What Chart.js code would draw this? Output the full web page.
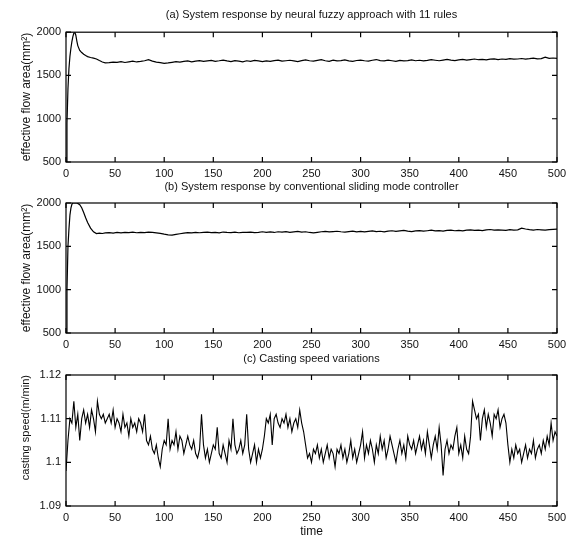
<!DOCTYPE html>
<html>
<head>
<meta charset="utf-8">
<script src="https://cdn.jsdelivr.net/npm/chart.js@4.4.0/dist/chart.umd.min.js"></script>
<style>
  body { margin: 0; background: #fff; }
  #page { position: relative; width: 573px; height: 542px; background: #fff; }
  canvas { position: absolute; left: 0; }
</style>
</head>
<body>
<div id="page">
  <canvas id="chart-a" width="573" height="180" style="top:0px"></canvas>
  <canvas id="chart-b" width="573" height="172" style="top:180px"></canvas>
  <canvas id="chart-c" width="573" height="190" style="top:352px"></canvas>
</div>
<script>
const timeTicks = [0, 50, 100, 150, 200, 250, 300, 350, 400, 450, 500];
const flowTicks = [500, 1000, 1500, 2000];
const speedTicks = [1.09, 1.1, 1.11, 1.12];
const speedTickLabels = ["1.09", "1.1", "1.11", "1.12"];

// time points for the two flow-area plots: dense during the start-up, every 4 after
const flowTime = [0, 1, 2, 3, 4, 5, 6, 7, 8, 9, 10, 11, 12, 14, 16, 18, 20, 22, 25, 28, 31, 34, 37, 40]
    .concat(Array.from({ length: 115 }, (_, i) => 44 + 4 * i));

// (a) neural fuzzy, 11 rules
const flowFuzzy = [
    500, 950, 1350, 1580, 1720, 1815, 1890, 1950, 1990, 2000, 1965, 1900, 1845, 1790, 1765, 1745, 1730, 1718, 1708, 1700, 1690, 1672, 1655, 1645,
    1648, 1655, 1652, 1660, 1650, 1658, 1665, 1656, 1662, 1670, 1682, 1666, 1655, 1648, 1640,
    1645, 1652, 1660, 1655, 1663, 1668, 1658, 1665, 1672, 1662, 1668, 1675, 1664, 1670, 1678, 1668, 1660, 1672, 1666, 1658, 1670, 1664, 1675, 1668, 1660,
    1668, 1662, 1672, 1678, 1665, 1670, 1676, 1668, 1660, 1672, 1680, 1670, 1665, 1675, 1682, 1670, 1664, 1676, 1668, 1672, 1680, 1668, 1662, 1673, 1678,
    1670, 1665, 1676, 1684, 1672, 1668, 1678, 1670, 1662, 1675, 1668, 1672, 1680, 1670, 1676, 1668, 1674, 1682, 1676, 1670, 1678, 1685, 1677, 1672, 1680,
    1686, 1678, 1684, 1690, 1682, 1686, 1680, 1688, 1692, 1684, 1690, 1686, 1694, 1688, 1690, 1696, 1690, 1694, 1700, 1692, 1695, 1712, 1698, 1702, 1698
];

// (b) conventional sliding mode
const flowSliding = [
    500, 1000, 1500, 1700, 1860, 1940, 1985, 2000, 2000, 2000, 2000, 2000, 1995, 1980, 1945, 1890, 1830, 1775, 1710, 1668, 1648, 1652, 1648, 1655,
    1658, 1652, 1660, 1655, 1662, 1658, 1664, 1657, 1662, 1659, 1665, 1660, 1655, 1650, 1640,
    1632, 1630, 1638, 1645, 1652, 1658, 1655, 1662, 1657, 1660, 1664, 1658, 1662, 1656, 1665, 1660, 1658, 1663, 1657, 1662, 1660, 1665, 1658, 1662, 1668,
    1662, 1666, 1660, 1668, 1664, 1670, 1662, 1667, 1672, 1664, 1668, 1660, 1656, 1662, 1668, 1672, 1666, 1670, 1674, 1668, 1664, 1670, 1676, 1668, 1672,
    1666, 1672, 1678, 1670, 1674, 1668, 1676, 1680, 1672, 1678, 1684, 1676, 1670, 1678, 1682, 1675, 1680, 1686, 1678, 1682, 1676, 1684, 1688, 1680, 1684,
    1678, 1686, 1690, 1684, 1688, 1682, 1690, 1694, 1686, 1690, 1688, 1684, 1692, 1686, 1690, 1710, 1700, 1692, 1688, 1694, 1690, 1686, 1692, 1695, 1698
];

// (c) casting speed, one value every 2 time units
const speedStep = 2;
const castingSpeed = [
    1.098, 1.105, 1.110, 1.109, 1.114, 1.108,
    1.111, 1.105, 1.110, 1.112, 1.109, 1.111, 1.108, 1.112, 1.110, 1.107, 1.114, 1.111, 1.110, 1.111, 1.109,
    1.110, 1.111, 1.109, 1.112, 1.108, 1.110, 1.109, 1.107, 1.111, 1.108, 1.109, 1.106, 1.110, 1.108, 1.109, 1.107, 1.110,
    1.109, 1.107, 1.111, 1.105, 1.104, 1.106, 1.103, 1.102, 1.104, 1.101, 1.099, 1.103, 1.105,
    1.104, 1.110, 1.103, 1.105, 1.104, 1.107, 1.103, 1.106, 1.105, 1.102, 1.104, 1.106, 1.104, 1.103, 1.105, 1.102, 1.101, 1.103, 1.111, 1.104, 1.101, 1.103, 1.100, 1.102, 1.104,
    1.103, 1.108, 1.102, 1.101, 1.104, 1.102, 1.100, 1.105, 1.103, 1.110, 1.104, 1.102, 1.103, 1.105, 1.102, 1.104, 1.111, 1.103, 1.100, 1.102, 1.104, 1.100, 1.103, 1.101, 1.103,
    1.106, 1.110, 1.109, 1.111, 1.104, 1.110, 1.111, 1.109, 1.108, 1.110, 1.109, 1.111, 1.108, 1.110, 1.107, 1.109, 1.110, 1.108, 1.112, 1.109,
    1.107, 1.104, 1.101, 1.102, 1.100, 1.103, 1.102, 1.104, 1.101, 1.103, 1.100, 1.102, 1.104, 1.101, 1.103, 1.102, 1.099, 1.103, 1.102, 1.104, 1.101, 1.103, 1.100, 1.102, 1.105, 1.101, 1.103, 1.100, 1.102, 1.104,
    1.107, 1.101, 1.104, 1.102, 1.105, 1.103, 1.100, 1.104, 1.102, 1.106, 1.103, 1.105, 1.101, 1.103, 1.106, 1.104, 1.102, 1.100, 1.103, 1.105, 1.102, 1.104, 1.101, 1.106, 1.104,
    1.103, 1.105, 1.102, 1.104, 1.106, 1.103, 1.105, 1.102, 1.107, 1.104, 1.101, 1.104, 1.106, 1.103, 1.108, 1.104, 1.097, 1.103, 1.105, 1.102, 1.104, 1.103, 1.106, 1.108, 1.102, 1.104, 1.101, 1.106, 1.103, 1.102,
    1.106, 1.114, 1.112, 1.110, 1.111, 1.105, 1.110, 1.112, 1.108, 1.111, 1.109, 1.106, 1.111, 1.110, 1.112, 1.108, 1.110, 1.111, 1.109, 1.104,
    1.100, 1.103, 1.101, 1.104, 1.102, 1.103, 1.100, 1.102, 1.104, 1.101, 1.103, 1.102, 1.105, 1.101, 1.103, 1.104, 1.102, 1.105, 1.103, 1.106, 1.104, 1.109, 1.105, 1.107, 1.106
];

Chart.defaults.font.family = "'Liberation Sans', Arial, sans-serif";
Chart.defaults.color = "#111";

const tickFont = { family: "'Liberation Sans Narrow', 'Liberation Sans', sans-serif", size: 11 };

// matlab style frame: full box + ticks pointing inward on all four sides
const matlabBox = {
    id: "matlabBox",
    afterDatasetsDraw(chart) {
        const { ctx, chartArea: a, scales } = chart;
        const len = 5;
        ctx.save();
        ctx.strokeStyle = "#000";
        ctx.lineWidth = 1.2;
        ctx.strokeRect(a.left, a.top, a.right - a.left, a.bottom - a.top);
        ctx.beginPath();
        scales.x.ticks.forEach(t => {
            const px = scales.x.getPixelForValue(t.value);
            ctx.moveTo(px, a.bottom); ctx.lineTo(px, a.bottom - len);
            ctx.moveTo(px, a.top); ctx.lineTo(px, a.top + len);
        });
        scales.y.ticks.forEach(t => {
            const py = scales.y.getPixelForValue(t.value);
            ctx.moveTo(a.left, py); ctx.lineTo(a.left + len, py);
            ctx.moveTo(a.right, py); ctx.lineTo(a.right - len, py);
        });
        ctx.stroke();
        ctx.restore();
    }
};

function makeChart(id, cfg) {
    const points = cfg.values.map((v, i) => ({ x: cfg.times[i], y: v }));
    return new Chart(document.getElementById(id), {
        type: "line",
        data: {
            datasets: [{
                data: points,
                borderColor: "#000",
                borderWidth: cfg.lineWidth,
                pointRadius: 0,
                tension: 0
            }]
        },
        options: {
            responsive: false,
            animation: false,
            devicePixelRatio: 1,
            layout: { padding: { left: 0, right: 16, top: 0, bottom: 0 } },
            plugins: {
                legend: { display: false },
                tooltip: { enabled: false },
                title: {
                    display: true,
                    text: cfg.title,
                    fullSize: false,
                    font: { size: 11, weight: "normal" },
                    padding: cfg.titlePad
                }
            },
            scales: {
                x: {
                    type: "linear",
                    min: 0,
                    max: 500,
                    afterBuildTicks: s => { s.ticks = timeTicks.map(v => ({ value: v })); },
                    afterFit: s => { s.height = cfg.xHeight; },
                    grid: { display: false, drawTicks: false },
                    border: { display: false },
                    ticks: { font: tickFont, padding: 5, maxRotation: 0 },
                    title: cfg.xTitle ? {
                        display: true,
                        text: cfg.xTitle,
                        font: { size: 12 },
                        padding: { top: 0, bottom: 3 }
                    } : { display: false }
                },
                y: {
                    min: cfg.yMin,
                    max: cfg.yMax,
                    afterBuildTicks: s => { s.ticks = cfg.yTicks.map(v => ({ value: v })); },
                    afterFit: s => { s.width = 66; },
                    grid: { display: false, drawTicks: false },
                    border: { display: false },
                    ticks: {
                        font: tickFont,
                        padding: 5,
                        callback: cfg.yLabels ? (v, i) => cfg.yLabels[i] : v => v
                    },
                    title: {
                        display: true,
                        text: cfg.yTitle,
                        align: cfg.yTitleAlign,
                        font: { size: cfg.yTitleSize },
                        padding: { top: 19, bottom: 0 }
                    }
                }
            }
        },
        plugins: [matlabBox]
    });
}

makeChart("chart-a", {
    title: "(a) System response by neural fuzzy approach with 11 rules",
    titlePad: { top: 8, bottom: 11 },
    times: flowTime,
    values: flowFuzzy,
    lineWidth: 1.2,
    yMin: 500, yMax: 2000, yTicks: flowTicks,
    yTitle: "effective flow area(mm²)",
    yTitleAlign: "center",
    yTitleSize: 12,
    xHeight: 18
});

makeChart("chart-b", {
    title: "(b) System response by conventional sliding mode controller",
    titlePad: { top: 0, bottom: 9.8 },
    times: flowTime,
    values: flowSliding,
    lineWidth: 1.2,
    yMin: 500, yMax: 2000, yTicks: flowTicks,
    yTitle: "effective flow area(mm²)",
    yTitleAlign: "center",
    yTitleSize: 12,
    xHeight: 19
});

makeChart("chart-c", {
    title: "(c) Casting speed variations",
    titlePad: { top: 0, bottom: 9.8 },
    times: castingSpeed.map((_, i) => i * speedStep),
    values: castingSpeed,
    lineWidth: 1.1,
    yMin: 1.09, yMax: 1.12, yTicks: speedTicks, yLabels: speedTickLabels,
    yTitle: "casting speed(m/min)",
    yTitleAlign: "end",
    yTitleSize: 11,
    xTitle: "time",
    xHeight: 36
});
</script>
</body>
</html>
